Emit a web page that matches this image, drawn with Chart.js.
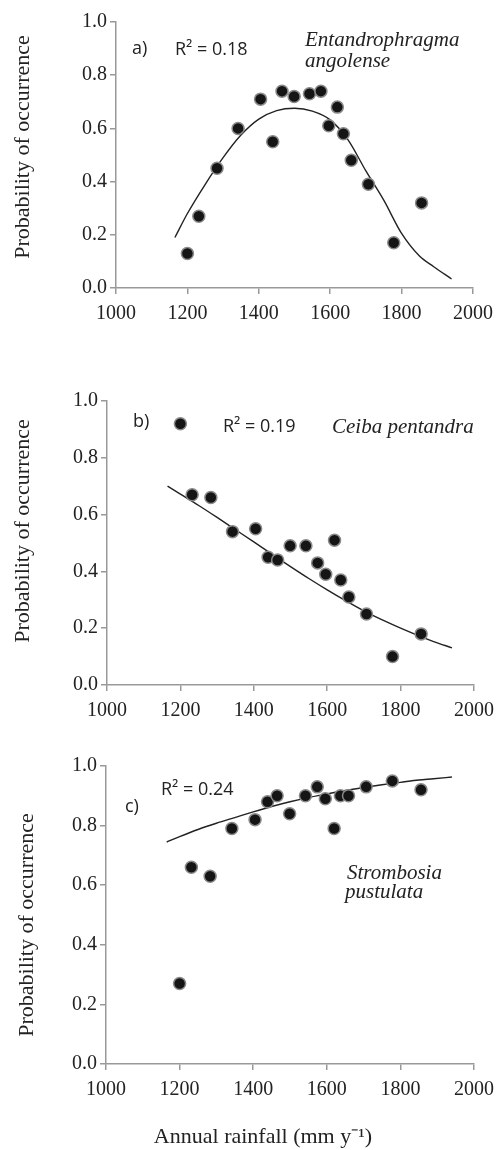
<!DOCTYPE html>
<html>
<head>
<meta charset="utf-8">
<script src="https://cdn.jsdelivr.net/npm/chart.js@4.4.1/dist/chart.umd.min.js"></script>
<style>
  body { margin: 0; background: #fff; }
  .panel { position: absolute; left: 0; width: 502px; }
</style>
</head>
<body>
<div class="panel" style="top:0;height:330px"><canvas id="chartA"></canvas></div>
<div class="panel" style="top:330px;height:400px"><canvas id="chartB"></canvas></div>
<div class="panel" style="top:730px;height:420px"><canvas id="chartC"></canvas></div>
<script>
// annual rainfall of the sites (mm/yr), shared by all three species
const rainfall = [1200, 1232, 1283, 1342, 1405, 1439, 1465, 1499, 1542, 1574, 1596, 1620, 1637, 1659, 1707, 1778, 1856];

// observed probability of occurrence
const probEntandrophragma = [0.13, 0.27, 0.45, 0.60, 0.71, 0.55, 0.74, 0.72, 0.73, 0.74, 0.61, 0.68, 0.58, 0.48, 0.39, 0.17, 0.32];
const probCeiba = [0.92, 0.67, 0.66, 0.54, 0.55, 0.45, 0.44, 0.49, 0.49, 0.43, 0.39, 0.51, 0.37, 0.31, 0.25, 0.10, 0.18];
const probStrombosia = [0.27, 0.66, 0.63, 0.79, 0.82, 0.88, 0.90, 0.84, 0.90, 0.93, 0.89, 0.79, 0.90, 0.90, 0.93, 0.95, 0.92];

// fitted curves
const fitRainfall = [1165, 1200, 1250, 1300, 1350, 1400, 1450, 1500, 1550, 1600, 1650, 1700, 1750, 1800, 1850, 1890, 1940];
const fitEntandrophragma = [0.19, 0.28, 0.39, 0.49, 0.575, 0.635, 0.667, 0.676, 0.665, 0.632, 0.557, 0.44, 0.33, 0.205, 0.12, 0.08, 0.034];
const fitCeiba = [0.70, 0.672, 0.632, 0.59, 0.547, 0.504, 0.46, 0.417, 0.375, 0.335, 0.297, 0.261, 0.229, 0.20, 0.173, 0.153, 0.131];
const fitStrombosia = [0.745, 0.763, 0.787, 0.808, 0.827, 0.846, 0.864, 0.88, 0.894, 0.906, 0.918, 0.928, 0.937, 0.945, 0.953, 0.957, 0.963];

const xTicks = [1000, 1200, 1400, 1600, 1800, 2000];
const yTicks = [0, 0.2, 0.4, 0.6, 0.8, 1.0];

const serif = "'Liberation Serif', 'Times New Roman', serif";
const sans = "'Open Sans', sans-serif";
const yTitle = 'Probability of occurrence';
const xTitle = 'Annual rainfall (mm y\u207B\u00B9)';

Chart.defaults.font.family = serif;
Chart.defaults.color = '#222';

// draws the panel letters, R² values, species names and axis titles
const notesPlugin = {
    id: 'notes',
    afterDraw(chart, args, opts) {
        const ctx = chart.ctx;
        (opts.items || []).forEach(n => {
            ctx.save();
            ctx.font = n.font;
            ctx.fillStyle = '#222';
            ctx.textAlign = n.align || 'left';
            ctx.textBaseline = n.baseline || 'middle';
            ctx.translate(n.x, n.y);
            if (n.rotate) ctx.rotate(n.rotate);
            ctx.fillText(n.text, 0, 0);
            ctx.restore();
        });
    }
};

function makePanel(id, probs, fit, p) {
    const ctx = document.getElementById(id);

    new Chart(ctx, {
        type: 'scatter',

        data: {
            datasets: [{
                data: rainfall.map((x, i) => ({ x: x, y: probs[i] })),
                pointRadius: 6,
                pointBackgroundColor: '#151515',
                pointBorderColor: '#8a8a8a',
                pointBorderWidth: 1.5,
                order: 0
            }, {
                type: 'line',
                data: fitRainfall.map((x, i) => ({ x: x, y: fit[i] })),
                borderColor: '#222',
                borderWidth: 1.4,
                pointRadius: 0,
                fill: false,
                cubicInterpolationMode: 'monotone',
                order: 1
            }]
        },

        options: {
            responsive: true,
            maintainAspectRatio: false,
            animation: false,
            layout: {
                padding: { top: p.top, right: p.right, left: 0, bottom: 0 }
            },
            plugins: {
                legend: { display: false },
                tooltip: { enabled: false },
                notes: { items: p.notes }
            },
            scales: {
                x: {
                    type: 'linear',
                    min: 1000,
                    max: 2000,
                    afterBuildTicks: s => { s.ticks = xTicks.map(v => ({ value: v })); },
                    afterFit: s => { s.height = p.xHeight; },
                    ticks: {
                        font: { family: serif, size: 20 },
                        color: '#222',
                        padding: 8,
                        maxRotation: 0,
                        callback: v => String(v)
                    },
                    grid: { drawOnChartArea: false, tickLength: 6, color: '#999', lineWidth: 1.5 },
                    border: { color: '#999', width: 1.5 }
                },
                y: {
                    min: 0,
                    max: 1,
                    afterBuildTicks: s => { s.ticks = yTicks.map(v => ({ value: v })); },
                    afterFit: s => { s.width = p.yWidth; },
                    ticks: {
                        font: { family: serif, size: 20 },
                        color: '#222',
                        padding: 3,
                        callback: v => v.toFixed(1)
                    },
                    grid: { drawOnChartArea: false, tickLength: 6, color: '#999', lineWidth: 1.5 },
                    border: { color: '#999', width: 1.5 }
                }
            }
        },

        plugins: [notesPlugin]
    });
}

makePanel('chartA', probEntandrophragma, fitEntandrophragma, {
    top: 22, right: 29, xHeight: 42, yWidth: 116,
    notes: [
        { text: 'a)', x: 132, y: 49, font: '18px ' + sans },
        { text: 'R\u00B2 = 0.18', x: 175, y: 50, font: '18px ' + sans },
        { text: 'Entandrophragma', x: 305, y: 46, font: 'italic 21px ' + serif, baseline: 'alphabetic' },
        { text: 'angolense', x: 305, y: 67, font: 'italic 21px ' + serif, baseline: 'alphabetic' },
        { text: yTitle, x: 23, y: 147, font: '22px ' + serif, align: 'center', rotate: -Math.PI / 2 }
    ]
});

makePanel('chartB', probCeiba, fitCeiba, {
    top: 71, right: 24, xHeight: 45, yWidth: 107,
    notes: [
        { text: 'b)', x: 133, y: 92, font: '18px ' + sans },
        { text: 'R\u00B2 = 0.19', x: 223, y: 97, font: '18px ' + sans },
        { text: 'Ceiba pentandra', x: 332, y: 103, font: 'italic 21px ' + serif, baseline: 'alphabetic' },
        { text: yTitle, x: 23, y: 201, font: '22px ' + serif, align: 'center', rotate: -Math.PI / 2 }
    ]
});

makePanel('chartC', probStrombosia, fitStrombosia, {
    top: 36, right: 25, xHeight: 86, yWidth: 106,
    notes: [
        { text: 'R\u00B2 = 0.24', x: 161, y: 60, font: '18px ' + sans },
        { text: 'c)', x: 125, y: 77, font: '18px ' + sans },
        { text: 'Strombosia', x: 347, y: 149, font: 'italic 21px ' + serif, baseline: 'alphabetic' },
        { text: 'pustulata', x: 345, y: 168, font: 'italic 21px ' + serif, baseline: 'alphabetic' },
        { text: yTitle, x: 27, y: 195, font: '22px ' + serif, align: 'center', rotate: -Math.PI / 2 },
        { text: xTitle, x: 263, y: 407, font: '22px ' + serif, align: 'center' }
    ]
});
</script>
</body>
</html>
